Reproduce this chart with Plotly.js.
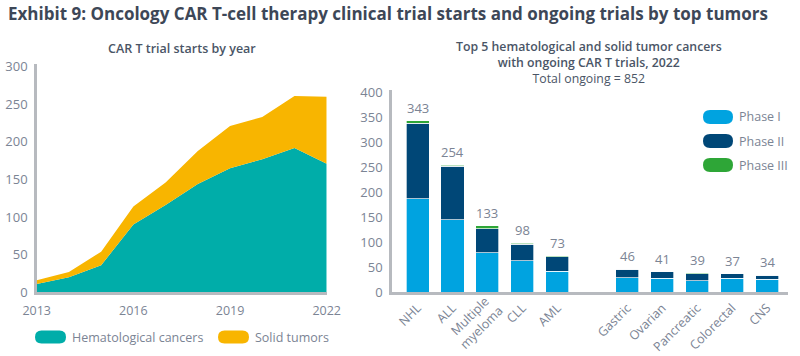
<!DOCTYPE html>
<html><head><meta charset="utf-8">
<script src="https://cdn.plot.ly/plotly-3.0.1.min.js"></script>
<style>html,body{margin:0;padding:0;background:#fff}#chart{width:800px;height:356px}</style>
</head><body><div id="chart"></div>
<script>
// ---- Data ----
const years = [2013,2014,2015,2016,2017,2018,2019,2020,2021,2022];
const hematological = [11,20,36,90,116,144,165,177,192,171];
const solidTumors = [5,7,18,24,30,44,56,56,69,89];

const hemaCats = ['NHL','ALL','Multiple<br>myeloma','CLL','AML'];
const solidCats = ['Gastric','Ovarian','Pancreatic','Colorectal','CNS'];
const phase1 = [187,145,79,63,42, 29,28,23,28,26];
const phase2 = [151,107,48,33,29, 17,13,14,9,8];
const phase3 = [5,2,6,2,2, 0,0,2,0,0];
const totals = [343,254,133,98,73, 46,41,39,37,34];

// ---- helpers ----
const W=800,H=356;
const px=x=>x/W, py=y=>1-y/H;
const FONT='Open Sans';
const GRAY='#7b8494', DARK='#3d4757', AXIS='#b7babf', SUB='#4a5566';

const spacer=' ';
const cats=[...hemaCats, spacer, ...solidCats];
const ins=(arr)=>[...arr.slice(0,5), null, ...arr.slice(5)];
const barLine={color:'rgba(255,255,255,0.85)',width:0.8};
// two-line label drawn as a centred rotated annotation, single-line ones as tick labels
const multiLine=cats.filter(c=>c.includes('<br>'));
const tickText=cats.map(c=>c.includes('<br>')?'':c);

const traces=[
  {x:years,y:hematological,type:'scatter',mode:'lines',stackgroup:'a',line:{width:0,color:'#00ADA9'},fillcolor:'#00ADA9',xaxis:'x',yaxis:'y',showlegend:false},
  {x:years,y:solidTumors,type:'scatter',mode:'lines',stackgroup:'a',line:{width:0,color:'#F8B500'},fillcolor:'#F8B500',xaxis:'x',yaxis:'y',showlegend:false},
  {x:cats,y:ins(phase1),type:'bar',marker:{color:'#00A3E0',line:barLine},xaxis:'x2',yaxis:'y2',showlegend:false},
  {x:cats,y:ins(phase2),type:'bar',marker:{color:'#004777',line:barLine},xaxis:'x2',yaxis:'y2',showlegend:false},
  {x:cats,y:ins(phase3),type:'bar',marker:{color:'#2EA637',line:barLine},xaxis:'x2',yaxis:'y2',showlegend:false}
];

function pill(x0,x1,yc,h,color){
  const r=h/2, t=yc-r, b=yc+r, m=yc;
  const P=(x,y)=>px(x)+','+py(y);
  const path='M'+P(x0+r,t)+' L'+P(x1-r,t)+' Q'+P(x1,t)+' '+P(x1,m)+' Q'+P(x1,b)+' '+P(x1-r,b)+
    ' L'+P(x0+r,b)+' Q'+P(x0,b)+' '+P(x0,m)+' Q'+P(x0,t)+' '+P(x0+r,t)+' Z';
  return {type:'path',xref:'paper',yref:'paper',path:path,fillcolor:color,line:{width:0}};
}
function txt(x,y,text,size,color,opts){
  return Object.assign({xref:'paper',yref:'paper',x:px(x),y:py(y),text:text,showarrow:false,
    font:{family:FONT,size:size,color:color},xanchor:'left',yanchor:'middle'},opts||{});
}

const annotations=[
  txt(6,14,'<b>Exhibit 9: Oncology CAR T-cell therapy clinical trial starts and ongoing trials by top tumors</b>',17,DARK),
  txt(182,49,'CAR T trial starts by year',12.5,SUB,{xanchor:'center',font:{family:FONT,size:12.5,color:SUB,weight:600}}),
  txt(589,63,'Top 5 hematological and solid tumor cancers<br>with ongoing CAR T trials, 2022<br><span style="font-weight:400">Total ongoing = 852</span>',
    12.5,SUB,{xanchor:'center',font:{family:FONT,size:12.3,color:SUB,weight:600}}),
  txt(70,337,'Hematological cancers',12.5,GRAY),
  txt(253,337,'Solid tumors',12.5,GRAY),
  txt(737,117,'Phase I',12.5,GRAY),
  txt(737,141,'Phase II',12.5,GRAY),
  txt(737,165,'Phase III',12.5,GRAY)
];
multiLine.forEach(c=>annotations.push({xref:'x2',yref:'paper',x:c,y:py(321),xshift:-12,text:c,textangle:-45,showarrow:false,
  xanchor:'center',yanchor:'middle',font:{family:FONT,size:12.5,color:GRAY}}));
const allTotals=ins(totals);
cats.forEach((c,i)=>{ if(allTotals[i]!=null) annotations.push({xref:'x2',yref:'y2',x:c,y:allTotals[i],text:String(allTotals[i]),
  showarrow:false,yanchor:'bottom',yshift:2,font:{family:FONT,size:13,color:GRAY}});});

const shapes=[
  pill(35,66,337,13,'#00ADA9'),
  pill(218,249,337,13,'#F8B500'),
  pill(703,733,117,14,'#00A3E0'),
  pill(703,733,141,14,'#004777'),
  pill(703,733,165,14,'#2EA637')
];

const layout={
  width:W,height:H,margin:{l:0,r:0,t:0,b:0},paper_bgcolor:'#fff',plot_bgcolor:'rgba(0,0,0,0)',
  font:{family:FONT,color:GRAY,size:12.5},
  barmode:'stack',bargap:0.34,showlegend:false,
  xaxis:{domain:[px(36.7),px(326.7)],range:[2013,2022],tickvals:[2013,2016,2019,2022],showgrid:false,zeroline:false,
    showline:true,linecolor:AXIS,linewidth:2.5,ticks:'outside',ticklen:5,tickcolor:'rgba(0,0,0,0)',tickfont:{size:12.5,color:GRAY},anchor:'y'},
  yaxis:{domain:[py(292.3),py(64.4)],range:[0,303],dtick:50,showgrid:false,zeroline:false,
    showline:true,linecolor:AXIS,linewidth:2.5,ticks:'outside',ticklen:4,tickcolor:'rgba(0,0,0,0)',tickfont:{size:13,color:GRAY},anchor:'x'},
  xaxis2:{domain:[px(391.7),px(788)],range:[-0.74,10.6],type:'category',tickmode:'array',tickvals:cats,ticktext:tickText,
    tickangle:-45,showgrid:false,zeroline:false,
    showline:true,linecolor:AXIS,linewidth:2.5,ticks:'outside',ticklen:1,tickcolor:'rgba(0,0,0,0)',tickfont:{size:12.5,color:GRAY},anchor:'y2'},
  yaxis2:{domain:[py(292.3),py(90.3)],range:[0,404],dtick:50,showgrid:false,zeroline:false,
    showline:true,linecolor:AXIS,linewidth:2.5,ticks:'outside',ticklen:4,tickcolor:'rgba(0,0,0,0)',tickfont:{size:13,color:GRAY},anchor:'x2'},
  annotations:annotations,shapes:shapes
};
Plotly.newPlot('chart',traces,layout,{displayModeBar:false,staticPlot:true});
</script></body></html>
